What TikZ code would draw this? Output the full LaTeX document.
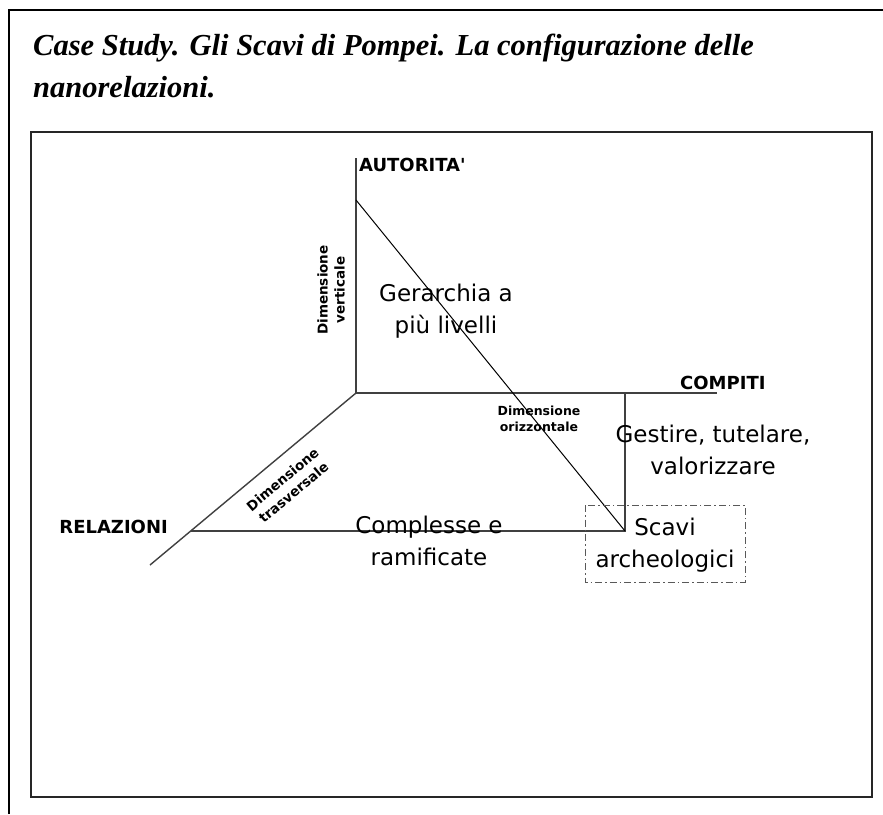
\documentclass[tikz,border=0pt]{standalone}
\usepackage{fontspec}
\setmainfont{Liberation Serif}
\newfontfamily\handfont{DejaVu Sans}
\begin{document}
\begin{tikzpicture}[x=1pt,y=-1pt,
  frame/.style={line width=2.5pt, draw=black},
  panel/.style={line width=1.6pt, draw=black!85},
  axis/.style={line width=1.4pt, draw=black!75},
  slant/.style={line width=1pt, draw=black},
  boxdash/.style={line width=1pt, draw=black!65, dash pattern=on 7pt off 3pt on 1.5pt off 3pt},
  titletext/.style={font=\bfseries\itshape\fontsize{30.5}{36}\selectfont, inner sep=0pt, anchor=base west},
  axislabel/.style={font=\handfont\bfseries\fontsize{18}{20}\selectfont, inner sep=0pt},
  dimlabel/.style={font=\handfont\bfseries\fontsize{13.5}{17}\selectfont, align=center, inner sep=0pt},
  bigtext/.style={font=\handfont\fontsize{23}{32}\selectfont, align=center, inner sep=0pt},
]
\useasboundingbox (0,0) rectangle (883,814);

% page frame and title
\draw[frame] (9,814) -- (9,10) -- (883,10);
\node[titletext] (title1) at (33,55) {Case Study. Gli Scavi di Pompei. La configurazione delle};
\node[titletext] (title2) at (33,97) {nanorelazioni.};

% inner panel
\draw[panel] (31,132) rectangle (872,797);

% axes
\coordinate (O) at (356,393);
\coordinate (Vtop) at (356,158);
\coordinate (Hend) at (717,393);
\coordinate (Tend) at (150,565);
\coordinate (R) at (191,531);
\coordinate (P) at (625,393);
\coordinate (Q) at (625,531);
\coordinate (S) at (356,200);

\draw[axis] (Vtop) -- (O) -- (Hend);
\draw[axis] (O) -- (Tend);
\draw[axis] (R) -- (Q) -- (P);
\draw[slant] (S) -- (Q);

% highlighted box
\draw[boxdash] (585,505) rectangle (745,582);

% labels
\node[axislabel, anchor=west] (aut) at (359,165) {AUTORITA'};
\node[axislabel, anchor=west] (comp) at (680,383) {COMPITI};
\node[axislabel, anchor=east] (rel) at (168,527) {RELAZIONI};

\node[dimlabel, rotate=90] (dv) at (331,290) {Dimensione\\verticale};
\node[dimlabel, font=\handfont\bfseries\fontsize{12.5}{16}\selectfont] (dor) at (539,419) {Dimensione\\orizzontale};
\node[dimlabel, rotate=40] (dtr) at (288,486) {Dimensione\\trasversale};

\node[bigtext] (ger) at (446,311) {Gerarchia a\\più livelli};
\node[bigtext] (ges) at (713,450) {Gestire, tutelare,\\valorizzare};
\node[bigtext] (cmp) at (429,541) {Complesse e\\ramificate};
\node[bigtext] (scv) at (665,545) {Scavi\\archeologici};
\end{tikzpicture}
\end{document}
